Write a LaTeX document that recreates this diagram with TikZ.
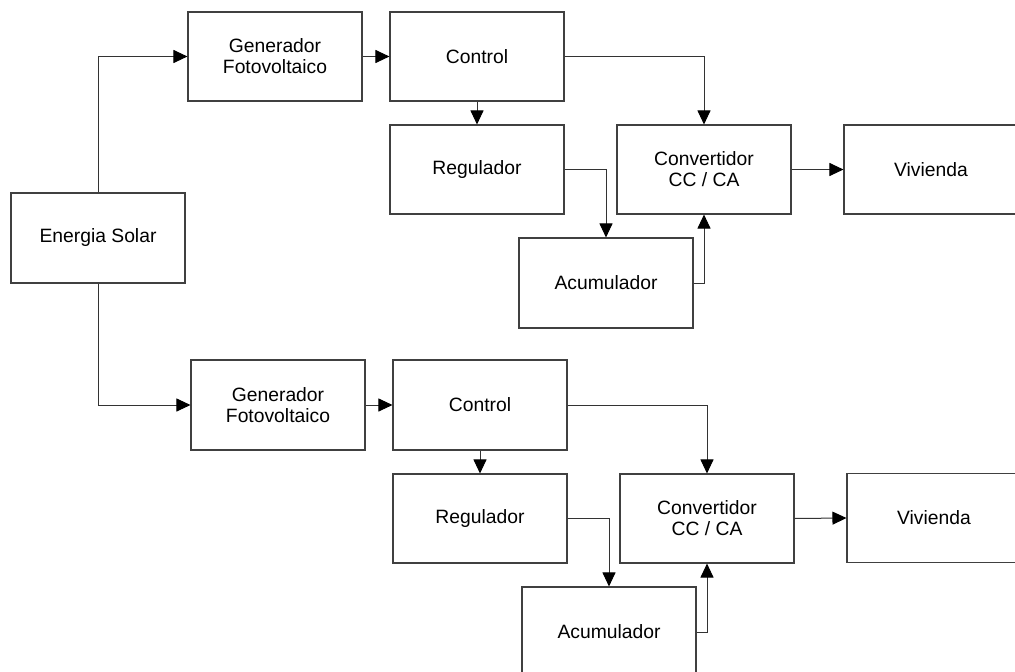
\documentclass[tikz,border=0pt]{standalone}
\usepackage{fontspec}
\setmainfont{Liberation Sans}
\usetikzlibrary{arrows.meta}
\begin{document}
\begin{tikzpicture}[x=1pt,y=-1pt,
  blk/.style={draw=black!75,line width=1.1pt,minimum width=174pt,minimum height=89pt,inner sep=0pt,align=center,
    font=\fontsize{19.3}{21}\selectfont,fill=white},
  con/.style={draw=black!80,line width=1pt,-{Triangle[length=14pt,width=13pt,color=black]}}]
\clip (0,0) rectangle (1015,672);
\fill[white] (0,0) rectangle (1015,672);
\node[blk,minimum height=90pt] (es) at (98,238) {Energia Solar};
% top chain
\node[blk] (g1) at (275,56.5) {Generador\\Fotovoltaico};
\node[blk] (c1) at (477,56.5) {Control};
\node[blk] (r1) at (477,169.5) {Regulador};
\node[blk] (cv1) at (704,169.5) {Convertidor\\CC / CA};
\node[blk] (v1) at (931,169.5) {Vivienda};
\node[blk,minimum height=90pt] (a1) at (606,283) {Acumulador};
% bottom chain
\node[blk,minimum height=90pt] (g2) at (278,405) {Generador\\Fotovoltaico};
\node[blk,minimum height=90pt] (c2) at (480,405) {Control};
\node[blk] (r2) at (480,518.5) {Regulador};
\node[blk] (cv2) at (707,518.5) {Convertidor\\CC / CA};
\node[blk] (v2) at (934,518) {Vivienda};
\node[blk,minimum height=90pt] (a2) at (609,632) {Acumulador};
% connectors
\draw[con] (es.north) |- (g1.west);
\draw[con] (es.south) |- (g2.west);
\draw[con] (g1.east) -- (c1.west);
\draw[con] (c1.south) -- (r1.north);
\draw[con] (c1.east) -| (cv1.north);
\draw[con] (r1.east) -| (a1.north);
\draw[con] (a1.east) -| (cv1.south);
\draw[con] (cv1.east) -- (v1.west);
\draw[con] (g2.east) -- (c2.west);
\draw[con] (c2.south) -- (r2.north);
\draw[con] (c2.east) -| (cv2.north);
\draw[con] (r2.east) -| (a2.north);
\draw[con] (a2.east) -| (cv2.south);
\draw[con] (cv2.east) -- (v2.west);
\end{tikzpicture}
\end{document}
